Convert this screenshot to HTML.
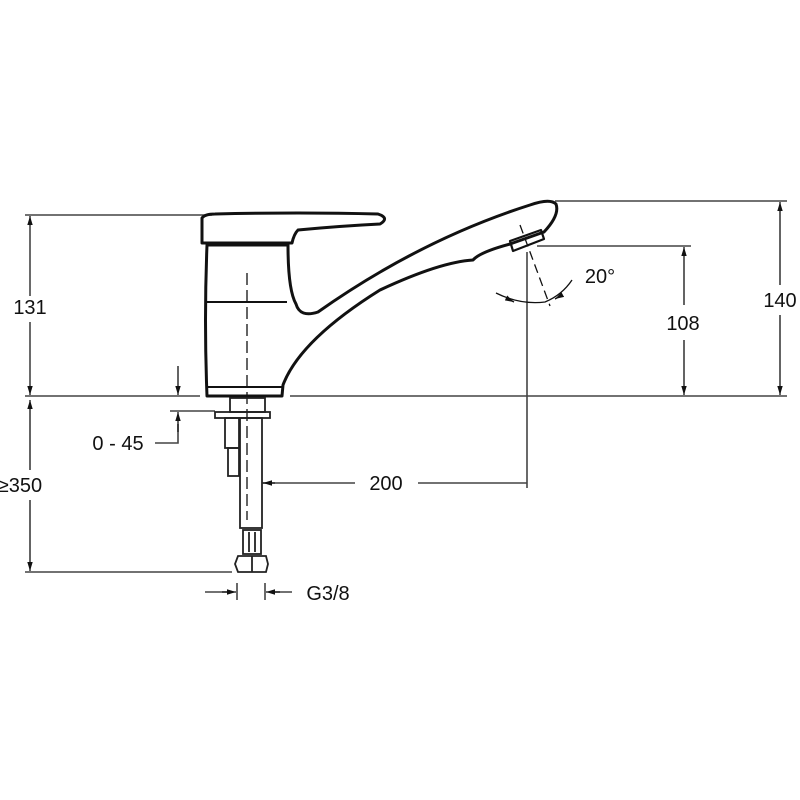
<!DOCTYPE html>
<html><head><meta charset="utf-8"><style>
html,body{margin:0;padding:0;background:#fff;width:800px;height:800px;overflow:hidden}
text{font-family:"Liberation Sans",sans-serif;font-size:20px;fill:#111}
</style></head><body>
<svg width="800" height="800" viewBox="0 0 800 800" xmlns="http://www.w3.org/2000/svg">
<defs>
<marker id="a" viewBox="0 0 10 10" refX="10" refY="5" markerWidth="9" markerHeight="9" orient="auto-start-reverse" markerUnits="userSpaceOnUse"><path d="M0,2 L10,5 L0,8 z" fill="#111"/></marker>
</defs>
<g stroke="#444" stroke-width="1.6" fill="none">
<line x1="25" y1="396" x2="200" y2="396"/>
<line x1="290" y1="396" x2="787" y2="396"/>
<line x1="25" y1="215" x2="212" y2="215"/>
<line x1="30" y1="226" x2="30" y2="296" />
<line x1="30" y1="322" x2="30" y2="386"/>
<line x1="555" y1="201" x2="787" y2="201"/>
<line x1="537" y1="246" x2="691" y2="246"/>
<line x1="25" y1="572" x2="232" y2="572"/>
<line x1="170" y1="411" x2="215" y2="411"/>
<polyline points="178,424 178,443 155,443"/>
<line x1="262" y1="483" x2="355" y2="483"/>
<line x1="418" y1="483" x2="527" y2="483"/>
<line x1="527" y1="252" x2="527" y2="488"/>
<line x1="205" y1="592" x2="230" y2="592"/>
<line x1="237" y1="583" x2="237" y2="600"/>
<line x1="265" y1="583" x2="265" y2="600"/>
<line x1="271" y1="592" x2="292" y2="592"/>
</g>
<g stroke="#111" stroke-width="1.3" fill="none">
<line x1="30" y1="226" x2="30" y2="216" marker-end="url(#a)"/>
<line x1="30" y1="386" x2="30" y2="395" marker-end="url(#a)"/>
<line x1="30" y1="400" x2="30" y2="470" marker-start="url(#a)"/>
<line x1="30" y1="500" x2="30" y2="571" marker-end="url(#a)"/>
<line x1="780" y1="202" x2="780" y2="285" marker-start="url(#a)"/>
<line x1="780" y1="315" x2="780" y2="395" marker-end="url(#a)"/>
<line x1="684" y1="247" x2="684" y2="305" marker-start="url(#a)"/>
<line x1="684" y1="340" x2="684" y2="395" marker-end="url(#a)"/>
<line x1="178" y1="366" x2="178" y2="395" marker-end="url(#a)"/>
<line x1="178" y1="432" x2="178" y2="412" marker-end="url(#a)"/>
<line x1="275" y1="483" x2="263" y2="483" marker-end="url(#a)"/>
<line x1="222" y1="592" x2="236" y2="592" marker-end="url(#a)"/>
<line x1="280" y1="592" x2="266" y2="592" marker-end="url(#a)"/>
<path d="M496,293 Q520,305 545,302 Q562,295 572,280" />
<line x1="506" y1="298" x2="514" y2="302" marker-end="url(#a)"/>
<line x1="562" y1="295" x2="555" y2="299" marker-end="url(#a)"/>
<line x1="520" y1="225" x2="550" y2="306" stroke-dasharray="9,5"/>
<line x1="247" y1="273" x2="247" y2="520" stroke-dasharray="12,5"/>
</g>
<g stroke="#111" stroke-width="3" fill="none" stroke-linejoin="round">
<path d="M202,218 Q205,214 215,214 Q300,212 378,214 Q390,218 380,224 Q340,226 298,230 Q294,234 292,243 L202,243 Z"/>
<path d="M207,245 Q204,320 207,396 L282,396 L283,385 Q300,340 380,290 Q440,262 473,260 Q480,252 510,244 L544,232 Q560,215 556,204 Q550,198 530,205 Q420,240 318,312 Q300,318 296,304 Q288,290 288,245 Z"/>
<line x1="207" y1="302" x2="287" y2="302" stroke-width="2"/>
<line x1="207" y1="387" x2="283" y2="387" stroke-width="2"/>
<path d="M510,241 L541,230 L544,239 L513,251 Z" stroke-width="2.2"/>
</g>
<g stroke="#222" stroke-width="1.8" fill="none">
<rect x="230" y="398" width="35" height="14"/>
<rect x="215" y="412" width="55" height="6"/>
<rect x="240" y="418" width="22" height="110"/>
<rect x="225" y="418" width="14" height="30"/>
<rect x="228" y="448" width="11" height="28"/>
<rect x="243" y="530" width="18" height="24"/>
<line x1="249" y1="532" x2="249" y2="552"/><line x1="255" y1="532" x2="255" y2="552"/>
<path d="M238,556 L266,556 L268,564 L266,572 L238,572 L235,564 Z"/>
<line x1="252" y1="556" x2="252" y2="572"/>
</g>
<text x="30" y="314" text-anchor="middle">131</text>
<text x="780" y="307" text-anchor="middle">140</text>
<text x="683" y="330" text-anchor="middle">108</text>
<text x="600" y="283" text-anchor="middle">20°</text>
<text x="386" y="490" text-anchor="middle">200</text>
<text x="20" y="492" text-anchor="middle">≥350</text>
<text x="118" y="450" text-anchor="middle">0 - 45</text>
<text x="328" y="600" text-anchor="middle">G3/8</text>
</svg>
</body></html>
